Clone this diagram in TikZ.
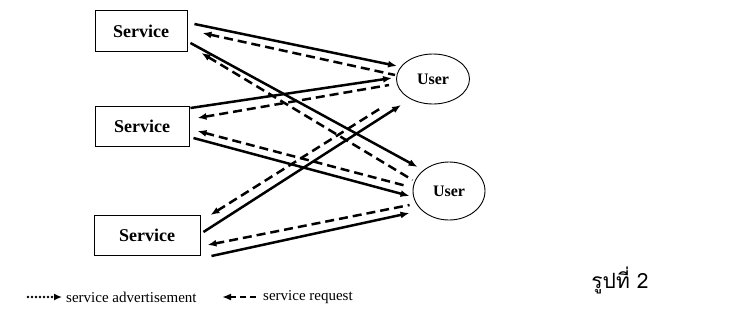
\documentclass[tikz,border=0pt]{standalone}
\usepackage{fontspec}
\setmainfont{Liberation Serif}
\newfontfamily\thaifont[Script=Thai]{Loma}
\usetikzlibrary{arrows.meta, calc, shapes.geometric}

\begin{document}
\begin{tikzpicture}[x=1pt, y=-1pt,
  svc/.style={draw, line width=0.9pt, minimum width=92pt, minimum height=41pt, inner sep=0pt,
    font=\fontsize{18}{20}\selectfont\bfseries},
  usr/.style={draw, ellipse, line width=0.9pt, minimum width=73pt, minimum height=50pt, inner sep=0pt,
    font=\fontsize{16}{18}\selectfont\bfseries},
  adv/.style={line width=2.5pt, -{Latex[length=9pt,width=7pt]}},
  req/.style={line width=2.5pt, dash pattern=on 9pt off 5pt, {Latex[length=9pt,width=7pt]}-},
  advkey/.style={line width=2.6pt, line cap=round, dash pattern=on 0pt off 4pt, -{Latex[length=8pt,width=7pt]}},
  lbl/.style={font=\fontsize{15}{17}\selectfont, anchor=west, inner sep=0pt}]
\useasboundingbox (0,0) rectangle (733,330);

% services and users
\node[svc] (s1) at (141,31) {Service};
\node[svc, minimum width=94pt, minimum height=40pt] (s2) at (142,126) {Service};
\node[svc, minimum width=106pt, minimum height=40pt] (s3) at (147,235) {Service};
\node[usr] (u1) at (433,79) {User};
\node[usr, minimum width=72pt, minimum height=58pt] (u2) at (449,191) {User};

% advertisement and request
\draw[adv] ($(s1.east)+(7,-7)$) -- ($(u1.west)+(1,-13)$);
\draw[req] ($(s1.east)+(15,2)$) -- ($(u1.west)+(-1,-4)$);
\draw[adv] ($(s1.east)+(3,12)$) -- ($(u2.west)+(5,-24)$);
\draw[req] ($(s1.east)+(14,22)$) -- ($(u2.west)+(0,-11)$);
\draw[adv] ($(s2.east)+(1,-18)$) -- ($(u1.west)+(-4,-1)$);
\draw[req] ($(s2.east)+(8,-8)$) -- ($(u1.west)+(-7,6)$);
\draw[adv] ($(s2.east)+(4,12)$) -- ($(u2.west)+(-3,5)$);
\draw[req] ($(s2.east)+(8,5)$) -- ($(u2.west)+(-6,-5)$);
\draw[adv] ($(s3.east)+(3,-3)$) -- ($(u1.west)+(5,26)$);
\draw[req] ($(s3.east)+(10,-20)$) -- ($(u1.west)+(-15,29)$);
\draw[adv] ($(s3.east)+(11,21)$) -- ($(u2.west)+(-3,22)$);
\draw[req] ($(s3.east)+(7,10)$) -- ($(u2.west)+(-3,14)$);

% legend
\node[lbl] (advtxt) at (66,297) {service advertisement};
\draw[advkey] ([xshift=-38pt]advtxt.west) -- ([xshift=-4pt]advtxt.west);
\node[lbl] (reqtxt) at (263,297) {service request};
\draw[req, dash pattern=on 6pt off 4pt] ([xshift=-41pt]reqtxt.west) -- ([xshift=-6pt]reqtxt.west);
\node[font=\thaifont\fontsize{21}{23}\selectfont, inner sep=0pt] (fig) at (620,280) {รูปที่ 2};
\end{tikzpicture}
\end{document}
